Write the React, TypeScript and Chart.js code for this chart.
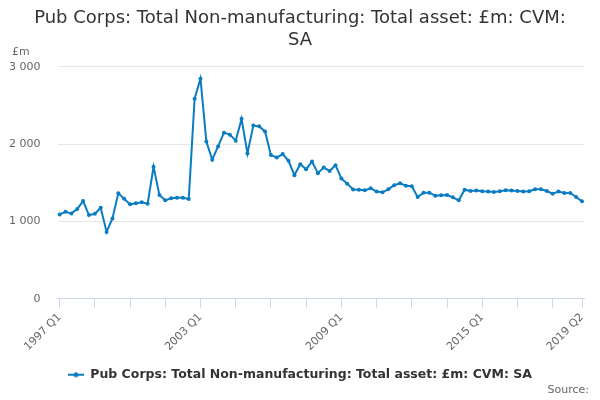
import React, { useEffect, useRef } from "react";
import { Chart, registerables } from "chart.js";

Chart.register(...registerables);

const TITLE_LINES = ["Pub Corps: Total Non-manufacturing: Total asset: £m: CVM:", "SA"];
const SERIES_NAME = "Pub Corps: Total Non-manufacturing: Total asset: £m: CVM: SA";
const UNIT_LABEL = "£m";
const SOURCE_LABEL = "Source:";

const START_YEAR = 1997;
const END_YEAR = 2019;
const END_QUARTER = 2;
const quarters: string[] = [];
for (let y = START_YEAR; y <= END_YEAR; y++) {
  for (let q = 1; q <= 4; q++) {
    if (y === END_YEAR && q > END_QUARTER) break;
    quarters.push(`${y} Q${q}`);
  }
}

const values: number[] = [
  1092, 1126, 1105, 1161, 1265, 1083, 1100, 1178, 866, 1040,
  1365, 1295, 1222, 1235, 1248, 1230, 1707, 1343, 1274, 1300,
  1308, 1308, 1291, 2588, 2848, 2035, 1800, 1971, 2150, 2124,
  2046, 2328, 1880, 2241, 2231, 2166, 1859, 1828, 1872, 1785,
  1599, 1742, 1677, 1776, 1625, 1698, 1655, 1729, 1558, 1490,
  1414, 1410, 1404, 1430, 1387, 1378, 1417, 1469, 1495, 1464,
  1456, 1317, 1373, 1373, 1334, 1339, 1343, 1313, 1274, 1412,
  1395, 1400, 1391, 1387, 1382, 1391, 1404, 1400, 1395, 1387,
  1391, 1417, 1417, 1395, 1360, 1387, 1369, 1369, 1317, 1261,
];

const labelledTicks: string[] = ["1997 Q1", "2003 Q1", "2009 Q1", "2015 Q1", "2019 Q2"];
const minorTickEvery = 6;

const yTicks: number[] = [0, 1000, 2000, 3000];

const LINE_COLOR = "#0a7cc4";
const FONT = "'DejaVu Sans', sans-serif";

function makeMarker(): HTMLCanvasElement {
  const c = document.createElement("canvas");
  c.width = 16;
  c.height = 8;
  const ctx = c.getContext("2d")!;
  ctx.strokeStyle = LINE_COLOR;
  ctx.lineWidth = 2;
  ctx.beginPath();
  ctx.moveTo(0, 4);
  ctx.lineTo(16, 4);
  ctx.stroke();
  ctx.fillStyle = LINE_COLOR;
  ctx.beginPath();
  ctx.arc(8, 4, 2.5, 0, Math.PI * 2);
  ctx.fill();
  return c;
}

export default function App() {
  const ref = useRef<HTMLCanvasElement | null>(null);

  useEffect(() => {
    if (!ref.current) return;
    Chart.defaults.font.family = FONT;
    const marker = makeMarker();

    const tickValues: number[] = [];
    for (let i = 0; i < quarters.length; i += minorTickEvery) tickValues.push(i);
    if (tickValues[tickValues.length - 1] !== quarters.length - 1) tickValues.push(quarters.length - 1);

    const textPlugin = {
      id: "extraText",
      afterDraw(chart: any) {
        const ctx = chart.ctx;
        ctx.save();
        ctx.font = `11px ${FONT}`;
        ctx.fillStyle = "#666666";
        ctx.textBaseline = "middle";
        ctx.textAlign = "left";
        ctx.fillText(UNIT_LABEL, 12, 52);
        ctx.textAlign = "right";
        ctx.fillText(SOURCE_LABEL, 589, 390);
        ctx.restore();
      },
    };

    const chart = new Chart(ref.current, {
      type: "line",
      data: {
        datasets: [
          {
            label: SERIES_NAME,
            data: values.map((v, i) => ({ x: i, y: v })),
            borderColor: LINE_COLOR,
            backgroundColor: LINE_COLOR,
            borderWidth: 2,
            pointRadius: 2,
            pointHoverRadius: 2,
            pointBackgroundColor: LINE_COLOR,
            pointBorderWidth: 0,
            tension: 0,
          },
        ],
      },
      options: {
        animation: false,
        responsive: false,
        maintainAspectRatio: false,
        layout: { padding: { left: 0, right: 0, top: 0, bottom: 9 } },
        scales: {
          x: {
            type: "linear",
            min: -0.36,
            max: quarters.length - 1 + 0.34,
            afterBuildTicks: (scale: any) => {
              scale.ticks = tickValues.map((v) => ({ value: v }));
            },
            grid: {
              drawOnChartArea: false,
              drawTicks: true,
              tickLength: 9,
              color: "#ccd6eb",
            },
            border: { display: true, color: "#ccd6eb", width: 1 },
            ticks: {
              autoSkip: false,
              maxRotation: 45,
              minRotation: 45,
              color: "#666666",
              font: { size: 11 },
              padding: 3,
              callback: (v: any) => {
                const lbl = quarters[Number(v)];
                return labelledTicks.includes(lbl) ? lbl : "";
              },
            },
          },
          y: {
            min: 0,
            max: 3000,
            afterBuildTicks: (scale: any) => {
              scale.ticks = yTicks.map((v) => ({ value: v }));
            },
            afterFit: (scale: any) => {
              scale.width = 57.5;
            },
            grid: { color: "#e6e6e6", drawTicks: false, lineWidth: 1 },
            border: { display: false },
            ticks: {
              color: "#666666",
              font: { size: 11 },
              padding: 17,
              callback: (v: any) => Number(v).toLocaleString("en-US").replace(/,/g, " "),
            },
          },
          yRight: {
            position: "right",
            display: true,
            grid: { display: false, drawTicks: false },
            border: { display: false },
            ticks: { display: false },
            afterFit: (scale: any) => {
              scale.width = 16;
            },
          },
        },
        plugins: {
          title: {
            display: true,
            text: TITLE_LINES,
            color: "#333333",
            font: { size: 18, weight: "normal", lineHeight: 1.22 },
            padding: { top: 7, bottom: 16 },
          },
          legend: {
            display: true,
            position: "bottom",
            labels: {
              usePointStyle: true,
              pointStyleWidth: 16,
              color: "#333333",
              font: { size: 12.5, weight: "bold" },
              padding: 12,
              generateLabels: () => [
                {
                  text: SERIES_NAME,
                  pointStyle: marker,
                  fillStyle: LINE_COLOR,
                  strokeStyle: LINE_COLOR,
                  lineWidth: 0,
                  hidden: false,
                  datasetIndex: 0,
                  fontColor: "#333333",
                },
              ],
            },
          },
          tooltip: { enabled: false },
        },
      },
      plugins: [textPlugin],
    });

    return () => chart.destroy();
  }, []);

  return (
    <div style={{ position: "fixed", left: 0, top: 0, width: 600, height: 400 }}>
      <canvas ref={ref} width={600} height={400} style={{ width: 600, height: 400 }} />
    </div>
  );
}
